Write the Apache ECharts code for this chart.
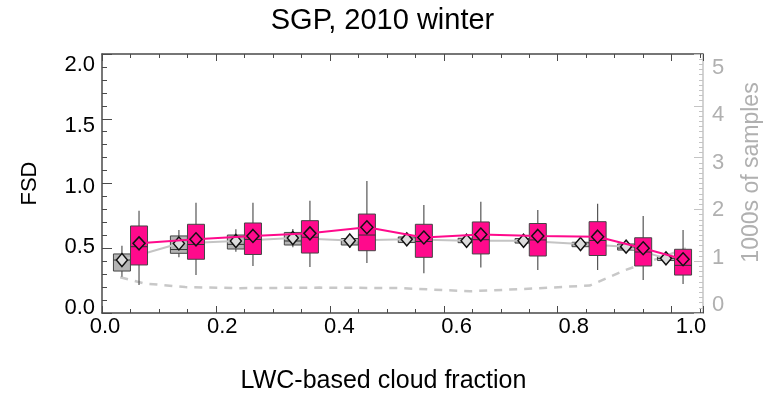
<!DOCTYPE html>
<html>
<head>
<meta charset="utf-8">
<script src="https://cdn.jsdelivr.net/npm/echarts@6/dist/echarts.min.js"></script>
<style>
html,body{margin:0;padding:0;background:#fff;}
#chart{width:765px;height:395px;}
</style>
</head>
<body>
<div id="chart"></div>
<script>
// ---- data ----
const grayX    = [0.035, 0.135, 0.235, 0.335, 0.435, 0.535, 0.64, 0.74, 0.84, 0.92, 0.99];
const grayLow  = [0.28, 0.43, 0.473, 0.507, 0.502, 0.525, 0.53, 0.525, 0.494, 0.473, 0.39];
const grayQ1   = [0.324, 0.461, 0.494, 0.525, 0.525, 0.544, 0.543, 0.54, 0.512, 0.486, 0.405];
const grayMed  = [0.409, 0.49, 0.53, 0.556, 0.56, 0.571, 0.56, 0.558, 0.533, 0.502, 0.422];
const grayQ3   = [0.456, 0.595, 0.602, 0.622, 0.575, 0.587, 0.577, 0.575, 0.546, 0.533, 0.437];
const grayHigh = [0.52, 0.641, 0.646, 0.649, 0.61, 0.60, 0.589, 0.585, 0.564, 0.551, 0.45];
const grayMean = [0.409, 0.537, 0.556, 0.579, 0.56, 0.569, 0.558, 0.558, 0.533, 0.512, 0.422];

const magX    = [0.065, 0.165, 0.265, 0.365, 0.465, 0.565, 0.665, 0.765, 0.87, 0.95, 1.02];
const magLow  = [0.216, 0.293, 0.363, 0.355, 0.386, 0.307, 0.351, 0.332, 0.332, 0.255, 0.224];
const magQ1   = [0.371, 0.415, 0.452, 0.463, 0.481, 0.43, 0.456, 0.44, 0.444, 0.363, 0.293];
const magMed  = [0.512, 0.529, 0.568, 0.585, 0.602, 0.552, 0.566, 0.564, 0.56, 0.471, 0.368];
const magQ3   = [0.672, 0.685, 0.695, 0.713, 0.764, 0.685, 0.703, 0.691, 0.705, 0.581, 0.492];
const magHigh = [0.79, 0.852, 0.852, 0.867, 1.019, 0.834, 0.86, 0.795, 0.844, 0.749, 0.641];
const magMean = [0.538, 0.569, 0.595, 0.615, 0.662, 0.583, 0.606, 0.595, 0.589, 0.50, 0.415];

const sampleX = [0.032, 0.075, 0.146, 0.242, 0.382, 0.523, 0.646, 0.733, 0.856, 0.919, 1.025];
const sampleK = [0.69, 0.57, 0.50, 0.48, 0.49, 0.48, 0.42, 0.46, 0.53, 0.83, 1.245];

const titleText = 'SGP, 2010 winter';
const xName = 'LWC-based cloud fraction';
const yName = 'FSD';
const y2Name = '1000s of samples';

// ---- styling ----
const FONT = 'Liberation Sans';
const MAGENTA = '#ff0a8c';
const GRAYBOX = '#b4b4b4';
const FRAME = '#4a4a4a';
const LIGHT = '#c4c4c4';

function rows(x, lo, q1, md, q3, hi) {
  return x.map((v, i) => [v, lo[i], q1[i], md[i], q3[i], hi[i]]);
}
function pts(x, y) { return x.map((v, i) => [v, y[i]]); }

function boxRender(fill) {
  return function (params, api) {
    const x = api.value(0);
    const lo = api.coord([x, api.value(1)]);
    const q1 = api.coord([x, api.value(2)]);
    const md = api.coord([x, api.value(3)]);
    const q3 = api.coord([x, api.value(4)]);
    const hi = api.coord([x, api.value(5)]);
    const w = 17;
    return {
      type: 'group',
      children: [
        { type: 'line', shape: { x1: lo[0], y1: lo[1], x2: hi[0], y2: hi[1] },
          style: { stroke: '#555', lineWidth: 1.2 } },
        { type: 'rect', shape: { x: q3[0] - w / 2, y: q3[1], width: w, height: Math.max(q1[1] - q3[1], 1) },
          style: { fill: fill, stroke: '#444', lineWidth: 1 } },
        { type: 'line', shape: { x1: md[0] - w / 2, y1: md[1], x2: md[0] + w / 2, y2: md[1] },
          style: { stroke: '#333', lineWidth: 1 } }
      ]
    };
  };
}

const G = { left: 102, top: 54, width: 601, height: 259 };
const noSplit = { show: false };

const option = {
  animation: false,
  backgroundColor: '#fff',
  textStyle: { fontFamily: FONT },
  title: {
    text: titleText, left: 'center', top: 1,
    textStyle: { fontFamily: FONT, fontSize: 29, fontWeight: 'normal', color: '#000' }
  },
  grid: [
    { left: G.left, top: G.top, width: G.width, height: G.height, outerBoundsMode: 'none', containLabel: false },
    { left: 105, top: 65, width: 586, height: 243, outerBoundsMode: 'none', containLabel: false },
    { left: G.left, top: 68, width: G.width, height: 237, outerBoundsMode: 'none', containLabel: false }
  ],
  xAxis: [
    { // 0 bottom frame
      gridIndex: 0, type: 'value', min: 0, max: 1.055, interval: 0.2, position: 'bottom',
      axisLine: { show: true, onZero: false, lineStyle: { color: FRAME, width: 1.5 } },
      axisTick: { show: true, inside: true, length: 7, lineStyle: { color: FRAME } },
      minorTick: { show: true, splitNumber: 4, length: 4, lineStyle: { color: FRAME } },
      axisLabel: { show: false }, splitLine: noSplit, minorSplitLine: noSplit,
      name: xName, nameLocation: 'middle', nameGap: 56,
      nameTextStyle: { fontFamily: FONT, fontSize: 25, color: '#000', padding: [0, 38, 0, 0] }
    },
    { // 1 top frame
      gridIndex: 0, type: 'value', min: 0, max: 1.055, interval: 0.2, position: 'top',
      axisLine: { show: true, onZero: false, lineStyle: { color: FRAME, width: 1.5 } },
      axisTick: { show: true, inside: true, length: 7, lineStyle: { color: FRAME } },
      minorTick: { show: true, splitNumber: 4, length: 4, lineStyle: { color: FRAME } },
      axisLabel: { show: false }, splitLine: noSplit, minorSplitLine: noSplit
    },
    { // 2 x tick labels
      gridIndex: 1, type: 'value', min: 0, max: 1, interval: 0.2, position: 'bottom',
      axisLine: { show: false, onZero: false }, axisTick: { show: false }, splitLine: noSplit,
      axisLabel: { show: true, margin: 8, fontFamily: FONT, fontSize: 22, color: '#000',
        formatter: v => v.toFixed(1) }
    },
    { // 3 helper
      gridIndex: 2, type: 'value', min: 0, max: 1, show: false, splitLine: noSplit,
      axisLine: { onZero: false }
    }
  ],
  yAxis: [
    { // 0 left FSD
      gridIndex: 0, type: 'value', min: 0, max: 2, interval: 0.5, position: 'left',
      axisLine: { show: true, onZero: false, lineStyle: { color: FRAME, width: 1.5 } },
      axisTick: { show: true, inside: true, length: 10, lineStyle: { color: FRAME } },
      minorTick: { show: true, splitNumber: 5, length: 5, lineStyle: { color: FRAME } },
      axisLabel: { show: false }, splitLine: noSplit, minorSplitLine: noSplit,
      name: yName, nameLocation: 'middle', nameGap: 61, nameRotate: 90,
      nameTextStyle: { fontFamily: FONT, fontSize: 22, color: '#000' }
    },
    { // 1 right samples
      gridIndex: 0, type: 'value', min: 0, max: 5, interval: 1, position: 'right',
      axisLine: { show: true, onZero: false, lineStyle: { color: LIGHT, width: 1.5 } },
      axisTick: { show: true, inside: true, length: 9, lineStyle: { color: LIGHT } },
      minorTick: { show: true, splitNumber: 10, length: 4, lineStyle: { color: LIGHT } },
      axisLabel: { show: false }, splitLine: noSplit, minorSplitLine: noSplit,
      name: y2Name, nameLocation: 'middle', nameGap: 37, nameRotate: 90,
      nameTextStyle: { fontFamily: FONT, fontSize: 23, color: '#b0b0b0', padding: [0, 0, 0, 22] }
    },
    { // 2 left tick labels
      gridIndex: 1, type: 'value', min: 0, max: 2, interval: 0.5, position: 'left',
      axisLine: { show: false, onZero: false }, axisTick: { show: false }, splitLine: noSplit,
      axisLabel: { show: true, margin: 10, fontFamily: FONT, fontSize: 22, color: '#000',
        formatter: v => v.toFixed(1) }
    },
    { // 3 right tick labels
      gridIndex: 2, type: 'value', min: 0, max: 5, interval: 1, position: 'right',
      axisLine: { show: false, onZero: false }, axisTick: { show: false }, splitLine: noSplit,
      axisLabel: { show: true, margin: 9, fontFamily: FONT, fontSize: 22, color: '#b0b0b0' }
    }
  ],
  series: [
    {
      name: 'samples', type: 'line', xAxisIndex: 0, yAxisIndex: 1, z: 1,
      data: pts(sampleX, sampleK), symbol: 'none', smooth: false,
      lineStyle: { color: '#c8c8c8', width: 2.5, type: [8, 7] }
    },
    {
      name: 'gray boxes', type: 'custom', xAxisIndex: 0, yAxisIndex: 0, z: 2,
      renderItem: boxRender(GRAYBOX),
      encode: { x: 0, y: [1, 2, 3, 4, 5] },
      data: rows(grayX, grayLow, grayQ1, grayMed, grayQ3, grayHigh)
    },
    {
      name: 'gray mean', type: 'line', xAxisIndex: 0, yAxisIndex: 0, z: 3,
      data: pts(grayX, grayMean), symbol: 'diamond', symbolSize: [11, 13],
      lineStyle: { color: '#c4c4c4', width: 2 },
      itemStyle: { color: '#dcdcdc', borderColor: '#111', borderWidth: 1.5 }
    },
    {
      name: 'magenta boxes', type: 'custom', xAxisIndex: 1, yAxisIndex: 0, z: 4,
      renderItem: boxRender(MAGENTA),
      encode: { x: 0, y: [1, 2, 3, 4, 5] },
      data: rows(magX, magLow, magQ1, magMed, magQ3, magHigh)
    },
    {
      name: 'magenta mean', type: 'line', xAxisIndex: 1, yAxisIndex: 0, z: 5,
      data: pts(magX, magMean), symbol: 'diamond', symbolSize: [12, 13],
      lineStyle: { color: MAGENTA, width: 2 },
      itemStyle: { color: MAGENTA, borderColor: '#111', borderWidth: 1.5 }
    }
  ]
};

const chart = echarts.init(document.getElementById('chart'), null, { renderer: 'canvas' });
chart.setOption(option);
</script>
</body>
</html>
